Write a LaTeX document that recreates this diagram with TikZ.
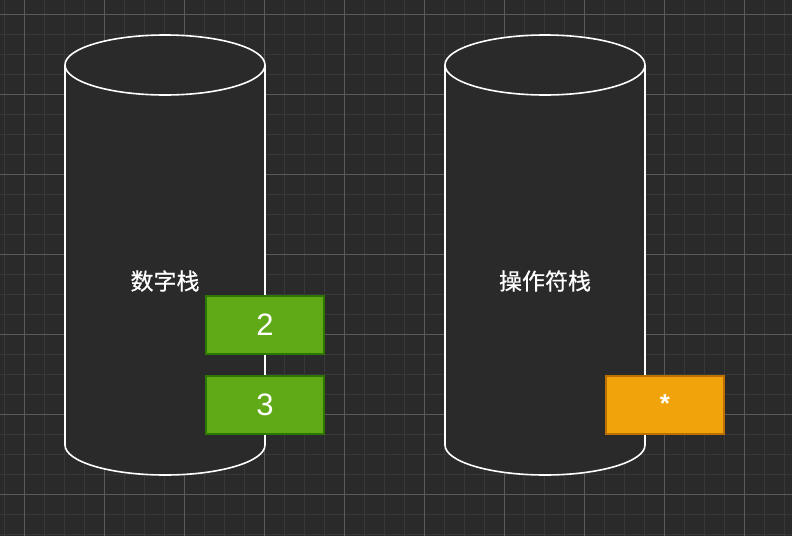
\documentclass[tikz,border=0pt]{standalone}
\usepackage{fontspec}
\setmainfont{Liberation Sans}
\newfontfamily\cjk[FakeBold=0.5]{Noto Sans CJK SC}
\usetikzlibrary{positioning}
\definecolor{bgdark}{HTML}{2A2A2A}
\definecolor{gridminor}{HTML}{383838}
\definecolor{gridmajor}{HTML}{5A5A5A}
\definecolor{numfill}{HTML}{60A917}
\definecolor{numline}{HTML}{2D7600}
\definecolor{opfill}{HTML}{F0A30A}
\definecolor{opline}{HTML}{BD7000}

\begin{document}
\begin{tikzpicture}[x=1pt, y=-1pt,
    minorgrid/.style={gridminor, line width=1pt},
    majorgrid/.style={gridmajor, line width=1pt},
    stackline/.style={white, line width=1.6pt},
    stacklabel/.style={text=white, font=\cjk\fontsize{23}{27}\selectfont},
    numbox/.style={draw=numline, fill=numfill, line width=1.6pt, text=white,
      minimum width=118pt, minimum height=58pt, inner sep=0pt,
      font=\fontsize{31}{34}\selectfont},
    opbox/.style={numbox, draw=opline, fill=opfill, font=\bfseries\fontsize{26}{28}\selectfont}]
  % background and grid
  \fill[bgdark] (0,0) rectangle (792,536);
  \useasboundingbox (0,0) rectangle (792,536);
  \foreach \x in {4,24,...,784} \draw[minorgrid] (\x,0) -- (\x,536);
  \foreach \y in {-6,14,...,534} \draw[minorgrid] (0,\y) -- (792,\y);
  \foreach \x in {24,104,...,744} \draw[majorgrid] (\x,0) -- (\x,536);
  \foreach \y in {14,94,...,494} \draw[majorgrid] (0,\y) -- (792,\y);
  % the two stacks
  \foreach \cx in {165,545} {
    \fill[bgdark] (\cx-100,65) rectangle (\cx+100,445);
    \fill[bgdark] (\cx,445) ellipse[x radius=100, y radius=30];
    \fill[bgdark] (\cx,65) ellipse[x radius=100, y radius=30];
    \draw[stackline] (\cx-100,65) -- (\cx-100,445);
    \draw[stackline] (\cx+100,65) -- (\cx+100,445);
    \begin{scope}
      \clip (\cx-110,445) rectangle (\cx+110,480);
      \draw[stackline] (\cx,445) ellipse[x radius=100, y radius=30];
    \end{scope}
    \draw[stackline] (\cx,65) ellipse[x radius=100, y radius=30];
  }
  \node[stacklabel] (numlabel) at (165,281) {数字栈};
  \node[stacklabel] (oplabel) at (545,281) {操作符栈};
  % stack items
  \node[numbox] (numtwo) at (265,325) {2};
  \node[numbox] (numthree) at (265,405) {3};
  \node[opbox] (opstar) at (665,405) {\raisebox{3pt}{*}};
\end{tikzpicture}
\end{document}
